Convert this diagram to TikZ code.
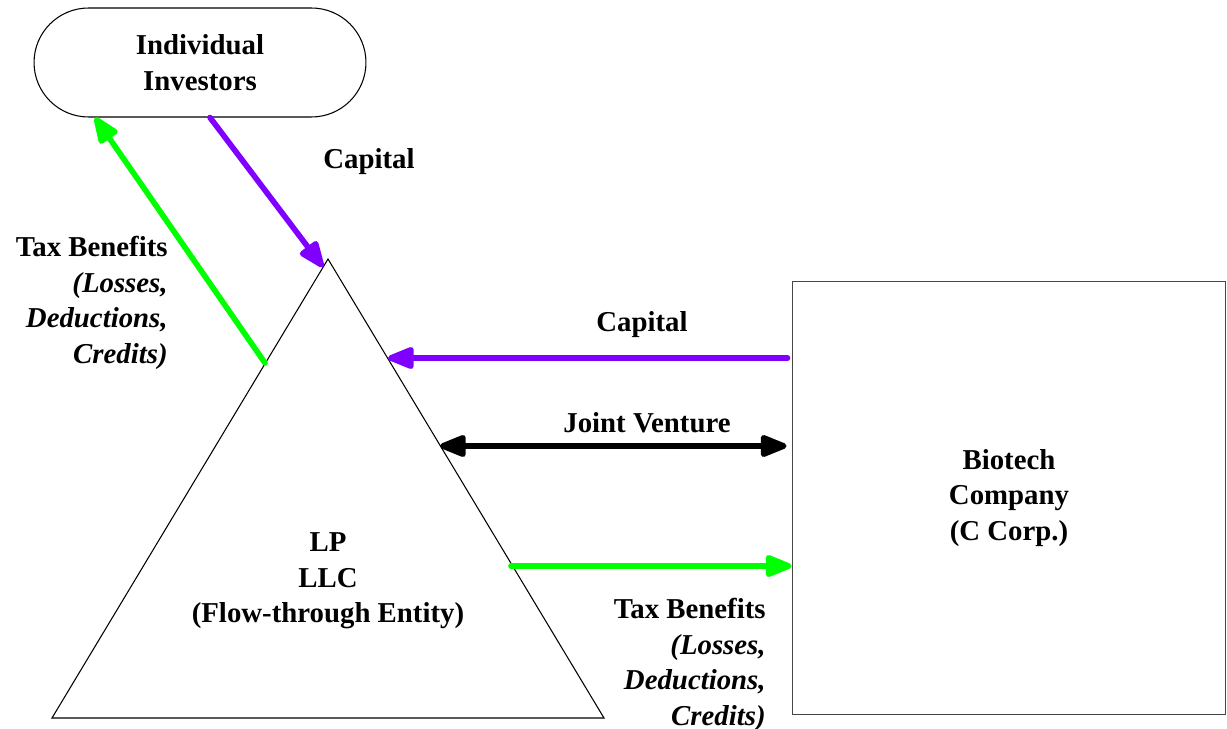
\documentclass[tikz,border=0pt]{standalone}
\usepackage{fontspec}
\setmainfont{Liberation Serif}
\usetikzlibrary{arrows.meta, shapes.misc}

\definecolor{capviolet}{RGB}{127,0,255}
\definecolor{taxgreen}{RGB}{0,255,0}
\definecolor{boxgray}{RGB}{70,70,70}

\begin{document}
\begin{tikzpicture}[x=0.02cm, y=-0.02cm,
    font=\fontsize{16.4}{20.2}\selectfont\bfseries,
    party/.style={draw=black, line width=0.6pt, align=center, inner sep=0pt},
    flow/.style={line width=3.2pt, line cap=round, -{Triangle[length=0.62cm, width=0.46cm, round]}},
    capital/.style={flow, draw=capviolet},
    tax/.style={flow, draw=taxgreen},
    venture/.style={flow, draw=black, {Triangle[length=0.62cm, width=0.46cm, round]}-{Triangle[length=0.62cm, width=0.46cm, round]}},
    note/.style={align=right, inner sep=0pt}
  ]
  \useasboundingbox (0,0) rectangle (1227,729);

  % Nodes manually positioned
  \node[party, rounded rectangle, minimum width=6.64cm, minimum height=2.18cm] (inv) at (200,62.5) {Individual\\Investors};
  \node[party, draw=boxgray, minimum width=8.68cm, minimum height=8.68cm] (bio) at (1009,498) {Biotech\\Company\\(C Corp.)};

  % Triangle for the partnership
  \coordinate (apex) at (328,259);
  \coordinate (baseL) at (52,718);
  \coordinate (baseR) at (604,718);
  \draw[line width=0.6pt] (apex) -- (baseR) -- (baseL) -- cycle;
  \node[align=center, inner sep=0pt] (lp) at (328,581) {LP\\LLC\\(Flow-through Entity)};

  % Points on the triangle sides
  \coordinate (apexIn) at (323,267);
  \coordinate (taxOut) at (265,363);
  \coordinate (capIn) at (388,358);
  \coordinate (jvEnd) at (440,446);
  \coordinate (taxIn) at (511,566);

  % Edges with labels
  \draw[capital] ([xshift=0.2cm]inv.south) -- (apexIn);
  \draw[tax] (taxOut) -- ([xshift=-2.1cm]inv.south);
  \draw[capital] ([xshift=-0.08cm]bio.west |- capIn) -- (capIn);
  \draw[venture] (jvEnd) -- ([xshift=-0.1cm]bio.west |- jvEnd);
  \draw[tax] (taxIn) -- (bio.west |- taxIn);

  \node[anchor=west, inner sep=0pt] (capTop) at (323,162) {Capital};
  \node[inner sep=0pt] (capMid) at (642,325) {Capital};
  \node[inner sep=0pt] (jvText) at (647,423) {Joint Venture};
  \node[note, anchor=east] (taxLeft) at (168,303) {Tax Benefits\\\textit{(Losses,}\\\textit{Deductions,}\\\textit{Credits)}};
  \node[note, anchor=east] (taxRight) at (766,665) {Tax Benefits\\\textit{(Losses,}\\\textit{Deductions,}\\\textit{Credits)}};

\end{tikzpicture}
\end{document}
